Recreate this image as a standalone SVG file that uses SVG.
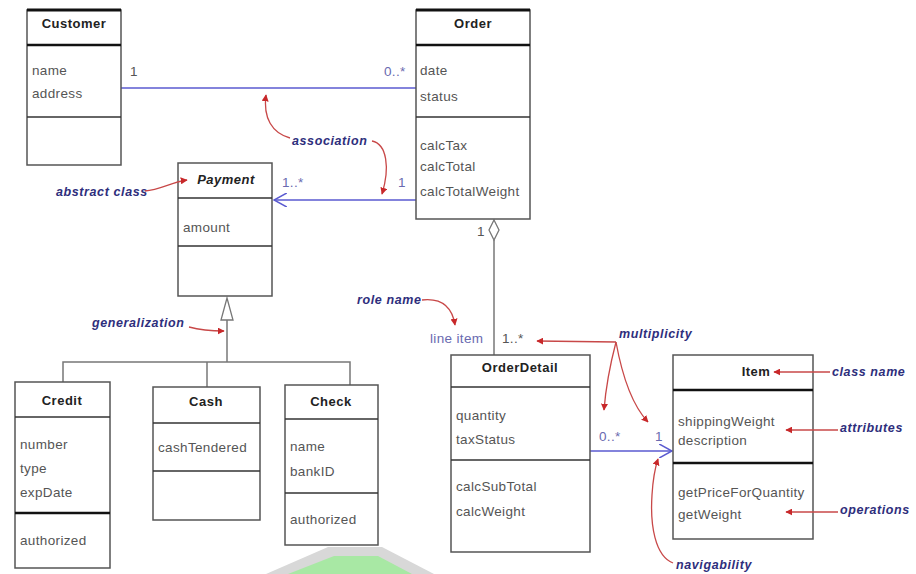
<svg xmlns="http://www.w3.org/2000/svg" width="916" height="574" viewBox="0 0 916 574">
<defs>
<style>
.box{fill:#fff;stroke:#555;stroke-width:1.5}
.top{stroke:#111;stroke-width:3}
.dv{stroke:#333;stroke-width:1.5}
.dvb{stroke:#111;stroke-width:2.5}
text{font-family:"Liberation Sans",Arial,sans-serif}
.t{font-size:13.5px;letter-spacing:0.35px;fill:#555}
.h{font-size:13px;letter-spacing:0.5px;font-weight:bold;fill:#222;text-anchor:middle}
.m{font-size:13.5px;letter-spacing:0.35px;fill:#6a6ab0}
.ann{font-size:12.5px;letter-spacing:0.6px;font-style:italic;font-weight:bold;fill:#2e2e7c}
.assoc{stroke:#5a5ad0;stroke-width:1.5;fill:none}
.gen{stroke:#777;stroke-width:1.5;fill:none}
.red{stroke:#c84848;stroke-width:1.3;fill:none;marker-end:url(#ra)}
</style>
<marker id="ra" viewBox="0 0 10 10" refX="9" refY="5" markerWidth="7" markerHeight="7" orient="auto" markerUnits="userSpaceOnUse">
<path d="M0,0 L10,5 L0,10 Z" fill="#c8282a"/>
</marker>
<marker id="oa" viewBox="0 0 12 12" refX="11" refY="6" markerWidth="14" markerHeight="14" orient="auto" markerUnits="userSpaceOnUse">
<path d="M0,0 L11,6 L0,12" fill="none" stroke="#5a5ad0" stroke-width="1.3"/>
</marker>
</defs>
<rect width="916" height="574" fill="#fff"/>

<!-- watermark -->
<path d="M266,574 L328,547 L382,547 L434,574 Z" fill="#d8d8d8"/>
<path d="M288,574 L334,556 L378,556 L412,574 Z" fill="#a8e8a4"/>

<g id="connectors">
<line class="assoc" x1="121" y1="88" x2="416" y2="88"/>
<line class="assoc" x1="416" y1="200" x2="274" y2="200" marker-end="url(#oa)"/>
<line class="assoc" x1="590" y1="451" x2="672" y2="451" marker-end="url(#oa)"/>
<line class="gen" x1="494" y1="240" x2="494" y2="355"/>
<polygon points="494,220 499,230 494,240 489,230" fill="#fff" stroke="#777" stroke-width="1.3"/>
<polyline class="gen" points="227,320 227,362"/>
<polygon points="227,298 221,320 233,320" fill="#fff" stroke="#777" stroke-width="1.3"/>
<polyline class="gen" points="63,382 63,362 350,362 350,385"/>
<line class="gen" x1="207" y1="362" x2="207" y2="387"/>
<text class="t" x="130" y="76">1</text>
<text class="m" x="384" y="76">0..*</text>
<text class="m" x="282" y="187">1..*</text>
<text class="m" x="398" y="187">1</text>
<text class="t" x="477" y="236">1</text>
<text class="m" x="430" y="343">line item</text>
<text class="t" x="502" y="343">1..*</text>
<text class="m" x="599" y="441">0..*</text>
<text class="m" x="655" y="441">1</text>
</g>

<g id="Customer">
<rect class="box" x="27" y="10" width="94" height="155"/>
<line class="top" x1="27" y1="10" x2="121" y2="10"/>
<line class="dvb" x1="27" y1="45" x2="121" y2="45"/>
<line class="dv" x1="27" y1="117" x2="121" y2="117"/>
<text class="h" x="74" y="28">Customer</text>
<text class="t" x="32" y="75">name</text>
<text class="t" x="32" y="98">address</text>
</g>

<g id="Order">
<rect class="box" x="416" y="10" width="114" height="209"/>
<line class="top" x1="416" y1="10" x2="530" y2="10"/>
<line class="dvb" x1="416" y1="45" x2="530" y2="45"/>
<line class="dv" x1="416" y1="117" x2="530" y2="117"/>
<text class="h" x="473" y="28">Order</text>
<text class="t" x="420" y="75">date</text>
<text class="t" x="420" y="101">status</text>
<text class="t" x="420" y="150">calcTax</text>
<text class="t" x="420" y="171">calcTotal</text>
<text class="t" x="420" y="196">calcTotalWeight</text>
</g>

<g id="Payment">
<rect class="box" x="178" y="163" width="94" height="133"/>
<line class="dv" x1="178" y1="198" x2="272" y2="198"/>
<line class="dv" x1="178" y1="246" x2="272" y2="246"/>
<text class="h" x="226" y="184" font-style="italic">Payment</text>
<text class="t" x="183" y="232">amount</text>
</g>

<g id="Credit">
<rect class="box" x="15" y="382" width="95" height="186"/>
<line class="dv" x1="15" y1="417" x2="110" y2="417"/>
<line class="dvb" x1="15" y1="513" x2="110" y2="513"/>
<text class="h" x="62" y="405">Credit</text>
<text class="t" x="20" y="449">number</text>
<text class="t" x="20" y="473">type</text>
<text class="t" x="20" y="497">expDate</text>
<text class="t" x="20" y="545">authorized</text>
</g>

<g id="Cash">
<rect class="box" x="153" y="387" width="107" height="133"/>
<line class="dv" x1="153" y1="423" x2="260" y2="423"/>
<line class="dv" x1="153" y1="471" x2="260" y2="471"/>
<text class="h" x="206" y="406">Cash</text>
<text class="t" x="158" y="452">cashTendered</text>
</g>

<g id="Check">
<rect class="box" x="285" y="385" width="93" height="160"/>
<line class="dv" x1="285" y1="419" x2="378" y2="419"/>
<line class="dv" x1="285" y1="493" x2="378" y2="493"/>
<text class="h" x="331" y="406">Check</text>
<text class="t" x="290" y="451">name</text>
<text class="t" x="290" y="476">bankID</text>
<text class="t" x="290" y="524">authorized</text>
</g>

<g id="OrderDetail">
<rect class="box" x="451" y="355" width="139" height="197"/>
<line class="dv" x1="451" y1="387" x2="590" y2="387"/>
<line class="dv" x1="451" y1="460" x2="590" y2="460"/>
<text class="h" x="520" y="372">OrderDetail</text>
<text class="t" x="456" y="420">quantity</text>
<text class="t" x="456" y="444">taxStatus</text>
<text class="t" x="456" y="491">calcSubTotal</text>
<text class="t" x="456" y="516">calcWeight</text>
</g>

<g id="Item">
<rect class="box" x="673" y="355" width="140" height="184"/>
<line class="dvb" x1="673" y1="390" x2="813" y2="390"/>
<line class="dvb" x1="673" y1="463" x2="813" y2="463"/>
<text class="h" x="756" y="376">Item</text>
<text class="t" x="678" y="426">shippingWeight</text>
<text class="t" x="678" y="445">description</text>
<text class="t" x="678" y="497">getPriceForQuantity</text>
<text class="t" x="678" y="519">getWeight</text>
</g>

<g id="annotations">
<text class="ann" x="292" y="145">association</text>
<path class="red" d="M290,138 C272,133 263,118 266,95"/>
<path class="red" d="M372,141 C387,144 390,168 382,194"/>
<text class="ann" x="56" y="196">abstract class</text>
<path class="red" d="M145,191 C160,190 172,182 187,180"/>
<text class="ann" x="92" y="327">generalization</text>
<path class="red" d="M189,327 C200,330 212,331 224,331"/>
<text class="ann" x="357" y="304">role name</text>
<path class="red" d="M422,300 C440,298 452,306 455,325"/>
<text class="ann" x="619" y="338">multiplicity</text>
<polyline class="red" points="616,342 537,341"/>
<path class="red" d="M616,342 C610,365 606,385 604,410"/>
<path class="red" d="M616,342 C622,375 632,405 648,422"/>
<text class="ann" x="832" y="376">class name</text>
<line class="red" x1="830" y1="372" x2="774" y2="372"/>
<text class="ann" x="840" y="432">attributes</text>
<line class="red" x1="838" y1="430" x2="786" y2="430"/>
<text class="ann" x="840" y="514">operations</text>
<line class="red" x1="838" y1="512" x2="786" y2="512"/>
<text class="ann" x="676" y="569">navigability</text>
<path class="red" d="M673,563 C655,556 650,525 652,495 C653,478 655,468 658,459"/>
</g>
</svg>
